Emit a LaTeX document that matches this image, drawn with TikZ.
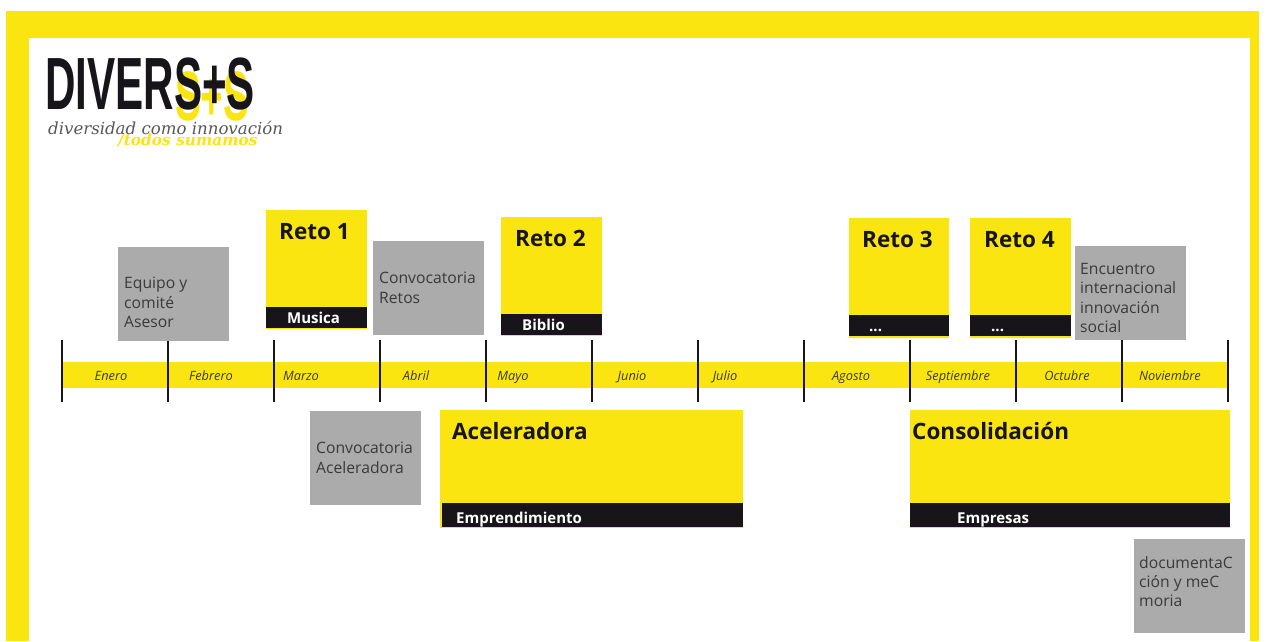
\documentclass[tikz,border=0pt]{standalone}
\usepackage{fontspec}
\setmainfont{Open Sans}
\newfontfamily\logofont{Liberation Sans}
\newfontfamily\tagfont{DejaVu Serif}
\definecolor{frameyellow}{HTML}{FBE510}
\definecolor{boxgrey}{HTML}{ABABAB}
\definecolor{stripblack}{HTML}{17151A}
\definecolor{textgrey}{HTML}{3A3A3C}
\tikzset{
  greybox/.style={fill=boxgrey,anchor=north west,minimum width=111pt,minimum height=94pt,inner sep=0pt},
  greytext/.style={text=textgrey,anchor=north west,inner sep=0pt,align=left,font=\fontsize{15.7}{19.3}\selectfont},
  yellowbox/.style={fill=frameyellow,anchor=north west,inner sep=0pt},
  blackstrip/.style={fill=stripblack,anchor=north west,inner sep=0pt,minimum height=21pt},
  titletext/.style={anchor=base west,inner sep=0pt,font=\fontsize{22.5}{24}\selectfont\bfseries,text=stripblack},
  striptext/.style={anchor=base west,inner sep=0pt,font=\fontsize{15}{16}\selectfont\bfseries,text=white},
  monthtext/.style={anchor=base,inner sep=0pt,font=\fontsize{12.8}{14}\selectfont\itshape,text=textgrey},
  tick/.style={draw=stripblack,line width=1.8pt}
}
\begin{document}
\begin{tikzpicture}[x=1pt,y=-1pt]
\useasboundingbox (0,0) rectangle (1266,641);

%frame
\fill[frameyellow] (6,11) rectangle (1259,641);
\fill[white] (29,38) rectangle (1250,641);

%logo
\node[anchor=base west,inner sep=0pt,text=frameyellow,font=\logofont\bfseries\fontsize{70}{70}\selectfont] (logoback) at (175,120) {\scalebox{.55}[1]{S+S}};
\node[anchor=base west,inner sep=0pt,text=stripblack,font=\logofont\bfseries\fontsize{74}{74}\selectfont] (logo) at (45,109) {\scalebox{.57}[1]{DIVERS+S}};
\node[anchor=base west,inner sep=0pt,text=frameyellow,font=\tagfont\bfseries\itshape\fontsize{15.4}{17}\selectfont] (subtag) at (118,145) {/todos sumamos};
\node[anchor=base west,inner sep=0pt,text=textgrey!85,font=\tagfont\itshape\fontsize{16.6}{20}\selectfont] (tagline) at (48,134) {diversidad como innovación};

%timeline
\fill[frameyellow] (62,362) rectangle (1228,388);
\foreach \i [count=\n] in {62,168,274,380,486,592,698,804,910,1016,1122,1228}{
  \coordinate (t\n) at (\i,340);
  \coordinate (b\n) at (\i,402);
  \draw[tick] (t\n) -- (b\n);
}
\foreach \x/\m in {111/Enero,211/Febrero,301/Marzo,416/Abril,513/Mayo,632/Junio,725/Julio,851/Agosto,958/Septiembre,1067/Octubre,1170/Noviembre}{
  \node[monthtext] (\m) at (\x,380) {\m};
}

%grey boxes
\node[greybox] (equipo) at (118,247) {};
\node[greytext] (equipotext) at (124,277) {Equipo y\\comité\\Asesor};
\node[greybox] (convretos) at (373,241) {};
\node[greytext] (convretostext) at (379,272) {Convocatoria\\Retos};
\node[greybox] (encuentro) at (1075,246) {};
\node[greytext] (encuentrotext) at (1080,263) {Encuentro\\internacional\\innovación\\social};
\node[greybox] (convacel) at (310,411) {};
\node[greytext] (convaceltext) at (316,442) {Convocatoria\\Aceleradora};
\node[greybox] (memoria) at (1134,539) {};
\node[greytext] (memoriatext) at (1139,556) {documentaC\\ción y meC\\moria};

%retos
\node[yellowbox,minimum width=101pt,minimum height=119pt] (reto1) at (266,210) {};
\node[blackstrip,minimum width=101pt] (strip1) at (266,307) {};
\node[titletext] (title1) at (279,239) {Reto 1};
\node[striptext] (musica) at (287,323) {Musica};

\node[yellowbox,minimum width=101pt,minimum height=119pt] (reto2) at (501,217) {};
\node[blackstrip,minimum width=101pt] (strip2) at (501,314) {};
\node[titletext] (title2) at (515,246) {Reto 2};
\node[striptext] (biblio) at (522,330) {Biblio};

\node[yellowbox,minimum width=100pt,minimum height=120pt] (reto3) at (849,218) {};
\node[blackstrip,minimum width=100pt] (strip3) at (849,315) {};
\node[titletext] (title3) at (862,247) {Reto 3};
\node[striptext] (dots3) at (869,331) {...};

\node[yellowbox,minimum width=101pt,minimum height=120pt] (reto4) at (970,218) {};
\node[blackstrip,minimum width=101pt] (strip4) at (970,315) {};
\node[titletext] (title4) at (984,247) {Reto 4};
\node[striptext] (dots4) at (991,331) {...};

%programas
\node[yellowbox,minimum width=303pt,minimum height=118pt] (acel) at (440,410) {};
\node[blackstrip,minimum width=301pt,minimum height=24pt] (stripacel) at (442,503) {};
\node[titletext] (titleacel) at (452,439) {Aceleradora};
\node[striptext] (empr) at (456,523) {Emprendimiento};

\node[yellowbox,minimum width=320pt,minimum height=118pt] (conso) at (910,410) {};
\node[blackstrip,minimum width=320pt,minimum height=24pt] (stripconso) at (910,503) {};
\node[titletext] (titleconso) at (912,439) {Consolidación};
\node[striptext] (empresas) at (957,523) {Empresas};

\end{tikzpicture}
\end{document}
